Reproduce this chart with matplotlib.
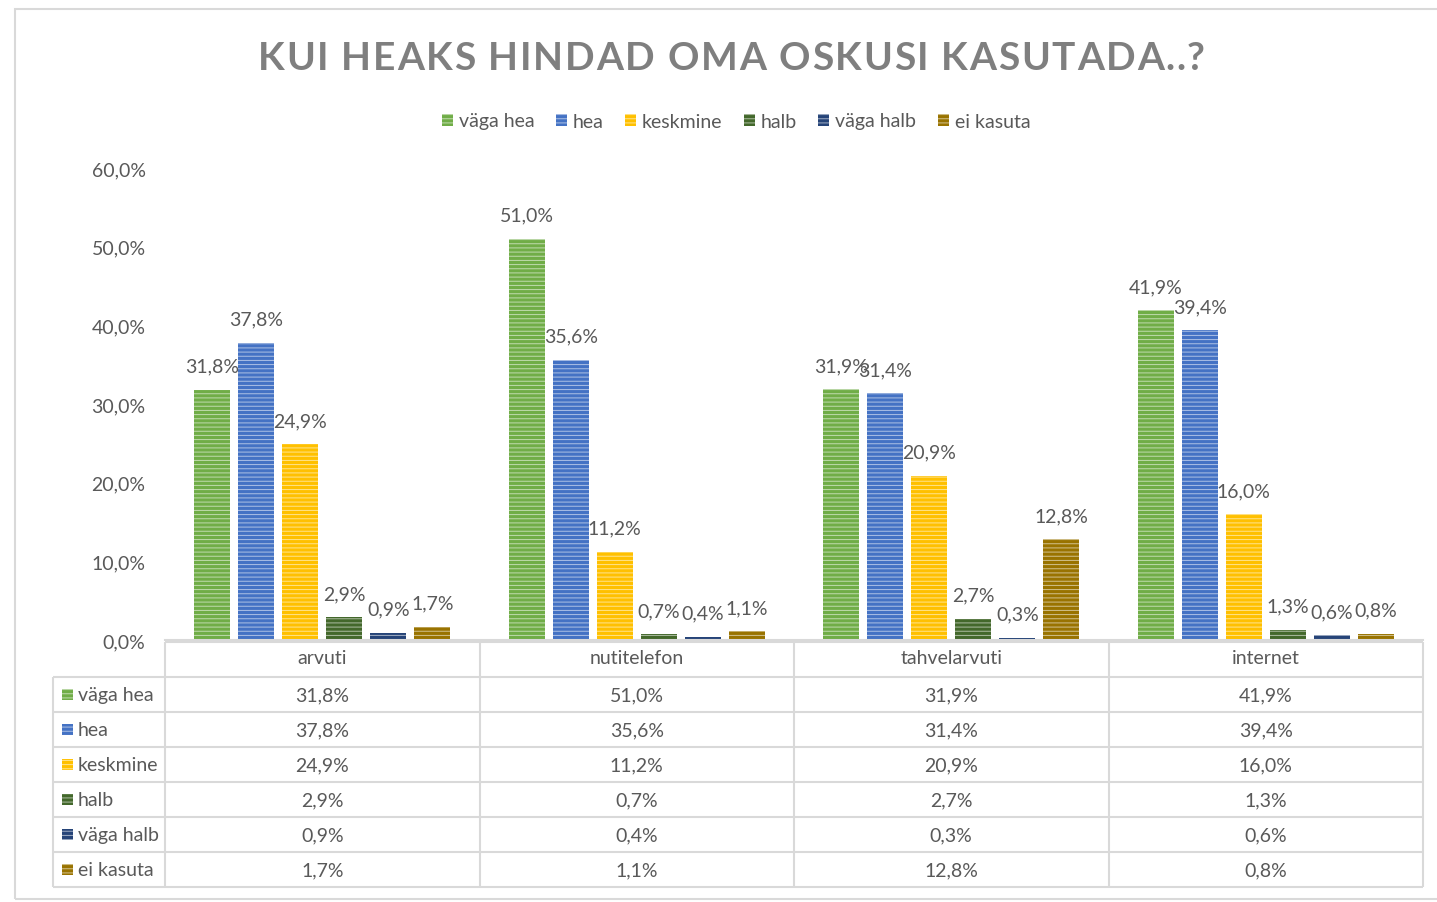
import matplotlib
matplotlib.use("Agg")
import matplotlib.pyplot as plt
from matplotlib.patches import Patch, Rectangle

# --- Data ---
categories = ["arvuti", "nutitelefon", "tahvelarvuti", "internet"]
series_names = ["väga hea", "hea", "keskmine", "halb", "väga halb", "ei kasuta"]
vaga_hea = [31.8, 51.0, 31.9, 41.9]
hea = [37.8, 35.6, 31.4, 39.4]
keskmine = [24.9, 11.2, 20.9, 16.0]
halb = [2.9, 0.7, 2.7, 1.3]
vaga_halb = [0.9, 0.4, 0.3, 0.6]
ei_kasuta = [1.7, 1.1, 12.8, 0.8]
y_ticks = [0, 10, 20, 30, 40, 50, 60]
title = "KUI HEAKS HINDAD OMA OSKUSI KASUTADA..?"

series_values = [vaga_hea, hea, keskmine, halb, vaga_halb, ei_kasuta]
colors = ["#70AD47", "#4472C4", "#FFC000", "#43682B", "#264478", "#997300"]

TEXT = "#595959"
GRID = "#D9D9D9"
HATCH = "----"
FS = 14

plt.rcParams["font.family"] = ["Lato", "DejaVu Sans"]
plt.rcParams["hatch.color"] = "#ffffff90"
plt.rcParams["hatch.linewidth"] = 0.7


def pct(v):
    return f"{v:.1f}%".replace(".", ",")


W, H = 1437, 903
fig = plt.figure(figsize=(W / 100, H / 100), dpi=100)
fig.patch.set_facecolor("white")

# outer chart frame
fig.add_artist(Rectangle((15 / W, 1 - 900 / H), (1460 - 15) / W, (900 - 10) / H,
                         transform=fig.transFigure, fill=False,
                         edgecolor=GRID, lw=1.5))

# --- Bars ---
ax = fig.add_axes([165 / W, 1 - 641 / H, (1423 - 165) / W, (641 - 169) / H])
ax.set_xlim(-0.5, len(categories) - 0.5)
ax.set_ylim(0, 60)

step = 0.14
width = 0.115
for i, (name, vals, col) in enumerate(zip(series_names, series_values, colors)):
    xs = [k + (i - 2.5) * step for k in range(len(categories))]
    bars = ax.bar(xs, vals, width=width, color=col, hatch=HATCH, label=name)
    for b, v in zip(bars, vals):
        ax.annotate(pct(v), (b.get_x() + b.get_width() / 2, v),
                    xytext=(0, 17), textcoords="offset points",
                    ha="center", va="center", fontsize=FS, color=TEXT)

for s in ["top", "right", "left"]:
    ax.spines[s].set_visible(False)
ax.spines["bottom"].set_color(GRID)
ax.spines["bottom"].set_linewidth(1.5)
ax.set_xticks([])
ax.set_yticks(y_ticks)
ax.set_yticklabels([pct(t) for t in y_ticks])
ax.tick_params(axis="y", length=0, pad=14, labelsize=FS, colors=TEXT)

# --- Data table ---
lab_w = 112 / 314.5
left = -0.5 - lab_w
tx = fig.add_axes([53 / W, 1 - 888 / H, (1423 - 53) / W, (888 - 643) / H])
tx.set_xlim(left, len(categories) - 0.5)
tx.set_ylim(len(series_names) + 1, 0)
tx.axis("off")

n = len(series_names)
tx.hlines(0, -0.5, len(categories) - 0.5, color=GRID, lw=1.5, clip_on=False)
tx.hlines(range(1, n + 2), left, len(categories) - 0.5, color=GRID, lw=1.5, clip_on=False)
tx.vlines([k - 0.5 for k in range(len(categories) + 1)], 0, n + 1, color=GRID, lw=1.5, clip_on=False)
tx.vlines(left, 1, n + 1, color=GRID, lw=1.5, clip_on=False)

for k, c in enumerate(categories):
    tx.text(k, 0.45, c, ha="center", va="center", fontsize=FS, color=TEXT)

for r, (name, vals, col) in enumerate(zip(series_names, series_values, colors)):
    yc = r + 1.5
    tx.add_patch(Rectangle((left + 9 / 314.5, yc - 0.16), 11 / 314.5, 0.32,
                           facecolor=col, hatch=HATCH, lw=0))
    tx.text(left + 25 / 314.5, yc, name, ha="left", va="center", fontsize=FS, color=TEXT)
    for k, v in enumerate(vals):
        tx.text(k, yc, pct(v), ha="center", va="center", fontsize=FS, color=TEXT)

# --- Title (letter spaced, laid out char by char) ---
renderer = fig.canvas.get_renderer()
title_kw = dict(fontsize=28, weight="bold", color="#7F7F7F", va="center", ha="left")
widths = []
for ch in title:
    t = fig.text(0, 0, ch, **title_kw)
    widths.append(t.get_window_extent(renderer).width)
    t.remove()
target = 1205 - 258
gap = (target - sum(widths)) / (len(title) - 1)
xp = 258
for ch, w in zip(title, widths):
    fig.text(xp / W, 1 - 58 / H, ch, **title_kw)
    xp += w + gap

handles = [Patch(facecolor=c, hatch=HATCH, lw=0) for c in colors]
fig.legend(handles, series_names, loc="center", bbox_to_anchor=(736 / W, 1 - 122 / H),
           ncol=6, frameon=False, fontsize=FS, labelcolor=TEXT,
           handlelength=0.57, handleheight=0.57, handletextpad=0.3, columnspacing=1.1)

fig.savefig("out.png", dpi=100)
